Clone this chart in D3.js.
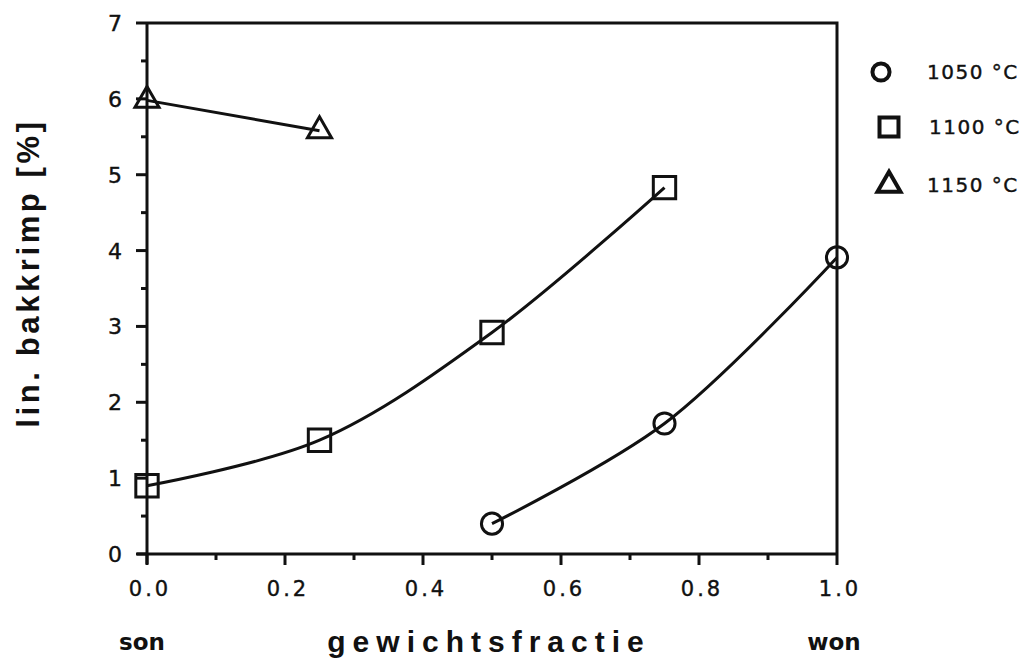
<!DOCTYPE html>
<html>
<head>
<meta charset="utf-8">
<script src="https://cdn.jsdelivr.net/npm/d3@7"></script>
<style>
  html, body { margin: 0; padding: 0; background: #fff; }
  svg { display: block; font-family: "DejaVu Sans", "Liberation Sans", Arial, sans-serif; }
  .lbl { stroke: #111; stroke-width: 0.4px; }
</style>
</head>
<body>
<svg id="chart" width="1026" height="662"></svg>
<script>
// Linear firing shrinkage vs. weight fraction, three firing temperatures
const frac1050 = [0.5, 0.75, 1.0];
const shrink1050 = [0.4, 1.72, 3.91];

const frac1100 = [0.0, 0.25, 0.5, 0.75];
const shrink1100 = [0.9, 1.5, 2.92, 4.83];

const frac1150 = [0.0, 0.25];
const shrink1150 = [5.98, 5.58];

const seriesLabels = ["1050 °C", "1100 °C", "1150 °C"];
const xTickLabels = ["0.0", "0.2", "0.4", "0.6", "0.8", "1.0"];
const yTickLabels = ["0", "1", "2", "3", "4", "5", "6", "7"];

const svg = d3.select("#chart");
const plotLeft = 147, plotRight = 837, plotTop = 23, plotBottom = 554;

const x = d3.scaleLinear().domain([0, 1]).range([plotLeft, plotRight]);
const y = d3.scaleLinear().domain([0, 7]).range([plotBottom, plotTop]);

const ink = "#111";
const boldFace = "'Liberation Sans', Arial, sans-serif";

// frame (top and right edges)
svg.append("path")
  .attr("d", `M${plotLeft},${plotTop}H${plotRight}V${plotBottom}`)
  .attr("fill", "none").attr("stroke", ink).attr("stroke-width", 3);

// x axis: major ticks every 0.2, minor ticks every 0.1
const xAxis = svg.append("g").attr("transform", `translate(0,${plotBottom})`);
xAxis.append("line").attr("x1", plotLeft - 10).attr("x2", plotRight).attr("stroke", ink).attr("stroke-width", 3);
xAxis.selectAll(".minor").data(d3.range(0.1, 1, 0.2)).join("line")
  .attr("x1", d => x(d)).attr("x2", d => x(d)).attr("y1", 0).attr("y2", 6)
  .attr("stroke", ink).attr("stroke-width", 3);
xAxis.selectAll(".major").data(xTickLabels).join("line")
  .attr("x1", d => x(+d)).attr("x2", d => x(+d)).attr("y1", 0).attr("y2", 11)
  .attr("stroke", ink).attr("stroke-width", 3);
xAxis.selectAll("text").data(xTickLabels).join("text")
  .attr("class", "lbl")
  .attr("x", d => x(+d) + 3).attr("y", 42)
  .attr("text-anchor", "middle").attr("font-size", 21).attr("letter-spacing", 3)
  .attr("fill", ink).text(d => d);

// y axis: major ticks every 1, minor ticks every 0.5
const yAxis = svg.append("g").attr("transform", `translate(${plotLeft},0)`);
yAxis.append("line").attr("y1", plotTop).attr("y2", plotBottom + 10).attr("stroke", ink).attr("stroke-width", 3);
yAxis.selectAll(".minor").data(d3.range(0.5, 7, 1)).join("line")
  .attr("y1", d => y(d)).attr("y2", d => y(d)).attr("x1", 0).attr("x2", -6)
  .attr("stroke", ink).attr("stroke-width", 3);
yAxis.selectAll(".major").data(yTickLabels).join("line")
  .attr("y1", d => y(+d)).attr("y2", d => y(+d)).attr("x1", 0).attr("x2", -11)
  .attr("stroke", ink).attr("stroke-width", 3);
yAxis.selectAll("text").data(yTickLabels).join("text")
  .attr("class", "lbl")
  .attr("x", -25).attr("y", d => y(+d) + 8)
  .attr("text-anchor", "end").attr("font-size", 22)
  .attr("fill", ink).text(d => d);

// axis titles
svg.append("text").attr("x", 489).attr("y", 652).attr("text-anchor", "middle")
  .attr("font-family", boldFace)
  .attr("font-size", 30).attr("font-weight", "bold").attr("letter-spacing", 7)
  .attr("fill", ink).text("gewichtsfractie");
svg.append("text").attr("x", 142).attr("y", 650).attr("text-anchor", "middle")
  .attr("font-size", 23).attr("font-weight", "bold")
  .attr("fill", ink).text("son");
svg.append("text").attr("x", 834).attr("y", 650).attr("text-anchor", "middle")
  .attr("font-size", 23).attr("font-weight", "bold")
  .attr("fill", ink).text("won");
svg.append("text")
  .attr("transform", "translate(39,273) rotate(-90)")
  .attr("font-family", boldFace)
  .attr("text-anchor", "middle").attr("font-size", 31).attr("font-weight", "bold")
  .attr("letter-spacing", 3.6).attr("fill", ink).text("lin.  bakkrimp  [%]");

// series
const series = [
  { xs: frac1050, ys: shrink1050, sym: d3.symbolCircle, size: 350, curve: d3.curveCatmullRom },
  { xs: frac1100, ys: shrink1100, sym: d3.symbolSquare, size: 500, curve: d3.curveCatmullRom },
  { xs: frac1150, ys: shrink1150, sym: d3.symbolTriangle, size: 250, curve: d3.curveLinear }
];

const line = d3.line().x(d => x(d[0])).y(d => y(d[1]));

series.forEach(s => {
  const pts = s.xs.map((v, i) => [v, s.ys[i]]);
  svg.append("path").datum(pts)
    .attr("d", line.curve(s.curve))
    .attr("fill", "none").attr("stroke", ink).attr("stroke-width", 3);
  svg.selectAll(null).data(pts).join("path")
    .attr("transform", d => `translate(${x(d[0])},${y(d[1])})`)
    .attr("d", d3.symbol().type(s.sym).size(s.size))
    .attr("fill", "none").attr("stroke", ink).attr("stroke-width", 3);
});

// legend
const legendY = [72, 127, 185];
const legendX = [881, 889, 889];
const legendSize = [230, 360, 230];
series.forEach((s, i) => {
  svg.append("path")
    .attr("transform", `translate(${legendX[i]},${legendY[i]})`)
    .attr("d", d3.symbol().type(s.sym).size(legendSize[i]))
    .attr("fill", "none").attr("stroke", ink).attr("stroke-width", 4);
  svg.append("text").attr("class", "lbl")
    .attr("x", 927 + (i === 1 ? 2 : 0)).attr("y", legendY[i] + 7)
    .attr("font-size", 20).attr("letter-spacing", 1.5).attr("fill", ink).text(seriesLabels[i]);
});
</script>
</body>
</html>
